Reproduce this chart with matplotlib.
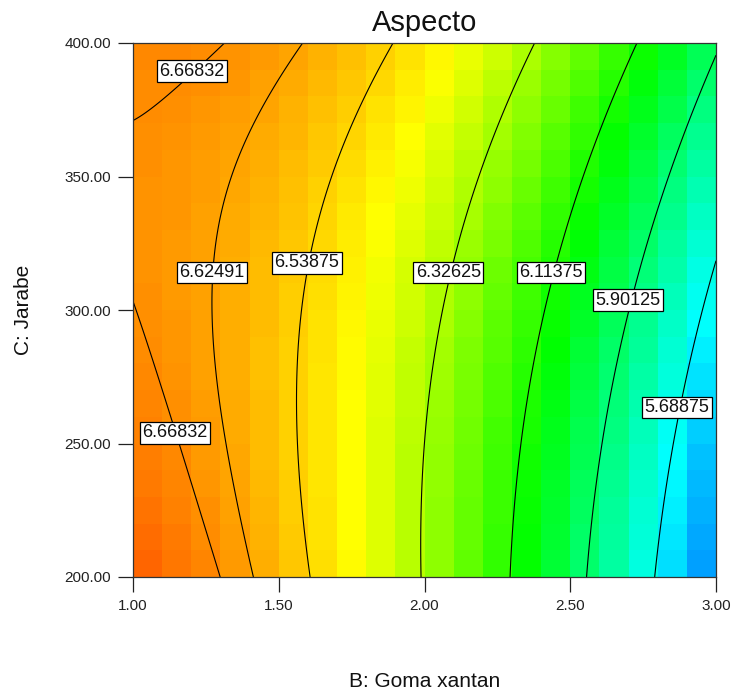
import numpy as np
import matplotlib
matplotlib.use("Agg")
import matplotlib.pyplot as plt
from matplotlib.colors import LinearSegmentedColormap

plt.rcParams["font.family"] = ["Liberation Sans", "DejaVu Sans"]

# Quadratic response-surface model for "Aspecto" in coded factors:
#   x = (B - 2.0) / 1.0     z = (C - 300) / 100
coef_intercept = 6.3587
coef_B = -0.5114
coef_C = 0.0905
coef_BC = 0.1280
coef_B2 = -0.2006
coef_C2 = 0.0505

b_range = [1.0, 3.0]
c_range = [200.0, 400.0]
n_cells = 20

contour_levels = [5.68875, 5.90125, 6.11375, 6.32625, 6.53875, 6.62491, 6.66832]
x_ticks = [1.00, 1.50, 2.00, 2.50, 3.00]
y_ticks = [200.00, 250.00, 300.00, 350.00, 400.00]

# where each contour value is written (level, B, C)
label_level = [6.66832, 6.66832, 6.62491, 6.53875, 6.32625, 6.11375, 5.90125, 5.68875]
label_b = [1.201, 1.143, 1.270, 1.597, 2.082, 2.433, 2.698, 2.866]
label_c = [389.4, 254.0, 314.0, 317.7, 314.0, 314.0, 303.7, 263.5]

# response values at which the colour ramp passes blue, cyan, green, yellow, red
ramp_values = [5.29, 5.68, 6.07, 6.46, 6.93]
ramp_colors = ["#0000ff", "#00ffff", "#00ff00", "#ffff00", "#ff0000"]


def aspecto(B, C):
    x = (B - 2.0) / 1.0
    z = (C - 300.0) / 100.0
    return (coef_intercept + coef_B * x + coef_C * z + coef_BC * x * z
            + coef_B2 * x ** 2 + coef_C2 * z ** 2)


lo, hi = ramp_values[0], ramp_values[-1]
cmap = LinearSegmentedColormap.from_list(
    "de_rainbow",
    [((v - lo) / (hi - lo), c) for v, c in zip(ramp_values, ramp_colors)])

fig = plt.figure(figsize=(7.36, 6.93), dpi=100)
ax = fig.add_axes([133 / 736, 1 - 577 / 693, (716 - 133) / 736, (577 - 43) / 693])

# coloured cells
b_edges = np.linspace(b_range[0], b_range[1], n_cells + 1)
c_edges = np.linspace(c_range[0], c_range[1], n_cells + 1)
b_mid = 0.5 * (b_edges[:-1] + b_edges[1:])
c_mid = 0.5 * (c_edges[:-1] + c_edges[1:])
BM, CM = np.meshgrid(b_mid, c_mid)
ax.pcolormesh(b_edges, c_edges, aspecto(BM, CM), cmap=cmap,
              vmin=lo, vmax=hi, shading="flat")

# contour lines
bf = np.linspace(b_range[0], b_range[1], 401)
cf = np.linspace(c_range[0], c_range[1], 401)
BF, CF = np.meshgrid(bf, cf)
ax.contour(BF, CF, aspecto(BF, CF), levels=sorted(contour_levels),
           colors="black", linewidths=0.8)

for lev, lb, lc in zip(label_level, label_b, label_c):
    ax.text(lb, lc, f"{lev:.5f}", ha="center", va="center", fontsize=13,
            color="#111111", zorder=5,
            bbox=dict(boxstyle="square,pad=0.13", fc="white", ec="black", lw=0.9))

ax.set_xlim(*b_range)
ax.set_ylim(*c_range)
ax.set_xticks(x_ticks)
ax.set_xticklabels([f"{v:.2f}" for v in x_ticks])
ax.set_yticks(y_ticks)
ax.set_yticklabels([f"{v:.2f}" for v in y_ticks])
ax.tick_params(axis="x", direction="out", length=10.5, width=0.9, pad=5.5,
               labelsize=11, colors="#222222")
ax.tick_params(axis="y", direction="out", length=10.5, width=0.9, pad=5.5,
               labelsize=11, colors="#222222")
for s in ax.spines.values():
    s.set_color("#333333")
    s.set_linewidth(0.9)

fig.text(424.5 / 736, 1 - 31 / 693, "Aspecto", ha="center", va="baseline",
         fontsize=21, color="#111111")
fig.text(424.5 / 736, 1 - 687 / 693, "B: Goma xantan", ha="center",
         va="baseline", fontsize=15, color="#111111")
fig.text(24 / 736, 1 - 310 / 693, "C: Jarabe", ha="center", va="center",
         rotation=90, fontsize=15, color="#111111")

fig.savefig("out.png", dpi=100)
